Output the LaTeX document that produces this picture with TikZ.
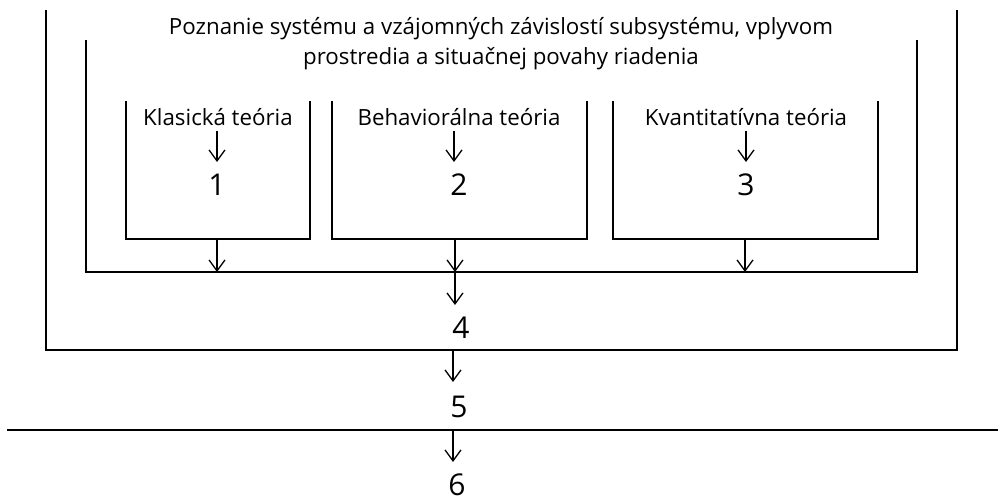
\documentclass[tikz,border=0pt]{standalone}
\usepackage{fontspec}
\setmainfont{Open Sans}
\usetikzlibrary{arrows.meta}
\begin{document}
\begin{tikzpicture}[x=1pt,y=-1pt,
  frame/.style={line width=2pt,line join=miter},
  flow/.style={line width=1.3pt,-{Straight Barb[length=11pt,width=16pt,line width=1.3pt]}},
  lbl/.style={font=\fontsize{22.3}{30}\selectfont,inner sep=0pt,align=center},
  num/.style={font=\fontsize{30}{30}\selectfont,inner sep=0pt}]
\useasboundingbox (0,0) rectangle (1006,502);
% outer U
\draw[frame] (46,10) -- (46,350) -- (957,350) -- (957,10);
% middle U
\draw[frame] (86,40) -- (86,272) -- (917,272) -- (917,40);
% boxes
\draw[frame] (126,101) -- (126,239) -- (310,239) -- (310,101);
\draw[frame] (332,101) -- (332,239) -- (587,239) -- (587,101);
\draw[frame] (613,101) -- (613,239) -- (878,239) -- (878,101);
% line
\draw[frame] (7,430) -- (998,430);
% texts
\node[lbl] (top) at (501,44) {Poznanie systému a vzájomných závislostí subsystému, vplyvom\\prostredia a situačnej povahy riadenia};
\node[lbl] (k) at (218,117) {Klasická teória};
\node[lbl] (b) at (459,117) {Behaviorálna teória};
\node[lbl] (q) at (746,117) {Kvantitatívna teória};
\node[num] (n1) at (217,185) {1};
\node[num] (n2) at (459,185) {2};
\node[num] (n3) at (746,185) {3};
\node[num] (n4) at (461,328) {4};
\node[num] (n5) at (459,407) {5};
\node[num] (n6) at (457,485) {6};
% coordinates
\coordinate (k1s) at (217,131); \coordinate (k1e) at (217,162);
\coordinate (b1s) at (454,131); \coordinate (b1e) at (454,162);
\coordinate (q1s) at (746,131); \coordinate (q1e) at (746,162);
\coordinate (a1s) at (217,240); \coordinate (a1e) at (217,272);
\coordinate (a2s) at (455,240); \coordinate (a2e) at (455,272);
\coordinate (a3s) at (745,240); \coordinate (a3e) at (745,272);
\coordinate (m4s) at (455,272); \coordinate (m4e) at (455,305);
\coordinate (o5s) at (453,351); \coordinate (o5e) at (453,382);
\coordinate (l6s) at (453,430); \coordinate (l6e) at (453,462);
% arrows
\draw[flow] (k1s) -- (k1e);
\draw[flow] (b1s) -- (b1e);
\draw[flow] (q1s) -- (q1e);
\draw[flow] (a1s) -- (a1e);
\draw[flow] (a2s) -- (a2e);
\draw[flow] (a3s) -- (a3e);
\draw[flow] (m4s) -- (m4e);
\draw[flow] (o5s) -- (o5e);
\draw[flow] (l6s) -- (l6e);
\end{tikzpicture}
\end{document}
